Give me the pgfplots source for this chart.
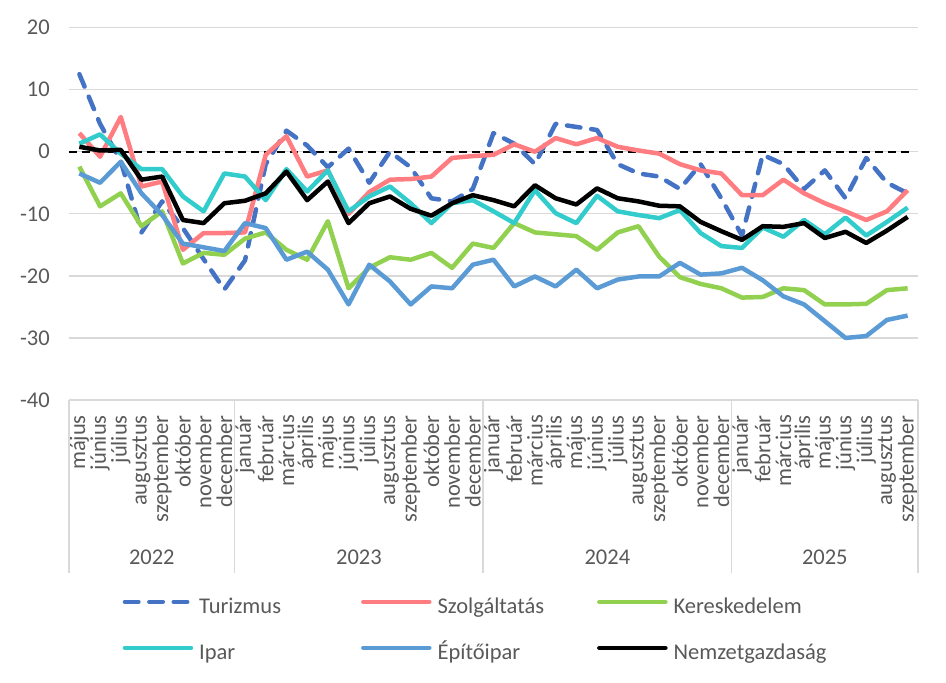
\documentclass[border=0pt]{standalone}
\usepackage{pgfplots}
\usepackage{pgfplotstable}
\pgfplotsset{compat=1.18}
\usepackage{fontspec}
\setmainfont{Carlito}
\definecolor{cT}{HTML}{4472C4}
\definecolor{cS}{HTML}{FF7C80}
\definecolor{cK}{HTML}{92D050}
\definecolor{cI}{HTML}{33CCCC}
\definecolor{cE}{HTML}{5B9BD5}
\definecolor{gridgray}{HTML}{D9D9D9}
\definecolor{labelgray}{HTML}{595959}
\pgfplotstableread{
x T S K I E N
0 12.5 3 -2.4 1.3 -3.5 0.8
1 4.5 -0.8 -8.8 2.8 -5 0.2
2 -1.5 5.6 -6.7 -0.3 -1.6 0.3
3 -13 -5.6 -12 -2.8 -6.7 -4.5
4 -8 -4.8 -9.6 -2.8 -10.2 -4
5 -12.3 -15.8 -18 -7.2 -14.8 -11
6 -17.3 -13.1 -16.3 -9.6 -15.4 -11.5
7 -22.2 -13.1 -16.6 -3.5 -16 -8.3
8 -17.5 -13 -14 -4 -11.5 -7.9
9 -2 -0.5 -13 -7.8 -12.3 -6.7
10 3.4 2.5 -15.8 -2.8 -17.4 -3.2
11 1 -4 -17.4 -6.4 -16.1 -7.8
12 -2.5 -3 -11.2 -3 -19 -4.8
13 0.5 -10 -22 -9.6 -24.6 -11.5
14 -5 -6.5 -18.7 -7.2 -18.2 -8.3
15 0 -4.5 -17 -5.6 -20.9 -7.2
16 -2.5 -4.4 -17.4 -8.3 -24.6 -9.2
17 -7.5 -4 -16.3 -11.5 -21.7 -10.3
18 -8 -1 -18.7 -8.3 -22 -8.3
19 -6 -0.7 -14.8 -7.8 -18.2 -7
20 3 -0.5 -15.5 -9.6 -17.4 -7.8
21 1.3 1.2 -11.5 -11.5 -21.7 -8.8
22 -2 0 -13 -6.2 -20.1 -5.4
23 4.5 2.2 -13.3 -9.9 -21.7 -7.5
24 4 1.2 -13.6 -11.5 -19 -8.5
25 3.5 2.2 -15.8 -7.1 -22 -5.9
26 -2 0.8 -13 -9.6 -20.6 -7.5
27 -3.5 0.2 -12 -10.2 -20.1 -8
28 -4 -0.3 -16.9 -10.7 -20.1 -8.7
29 -6 -2 -20.2 -9.4 -17.9 -8.8
30 -2 -3 -21.3 -13.1 -19.8 -11.3
31 -7.5 -3.5 -22 -15.2 -19.6 -12.8
32 -13.5 -7 -23.5 -15.5 -18.7 -14.2
33 -0.5 -7 -23.4 -12.2 -20.7 -12
34 -2 -4.5 -22 -13.7 -23.3 -12.1
35 -6 -6.7 -22.3 -11 -24.6 -11.5
36 -3 -8.3 -24.6 -13.3 -27.3 -13.9
37 -7.5 -9.6 -24.6 -10.6 -30 -12.9
38 -1 -11 -24.5 -13.5 -29.7 -14.7
39 -5 -9.6 -22.3 -11.3 -27.1 -12.7
40 -6.7 -6.2 -22 -9 -26.4 -10.5
}\datatable
\newcommand{\lbl}{\fontsize{22.5bp}{27bp}\selectfont}
\begin{document}
\begin{tikzpicture}
\path[use as bounding box] (-69bp,-283bp) rectangle (877bp,400bp);
\begin{axis}[
  at={(0,0)}, anchor=south west,
  width=849bp, height=372.4bp, scale only axis,
  xmin=-0.5, xmax=40.5, ymin=-40, ymax=20,
  ytick={-40,-30,...,20},
  xtick={0,...,40},
  xticklabels={május,június,július,augusztus,szeptember,október,november,december,
    január,február,március,április,május,június,július,augusztus,szeptember,október,november,december,
    január,február,március,április,május,június,július,augusztus,szeptember,október,november,december,
    január,február,március,április,május,június,július,augusztus,szeptember},
  xtick pos=left, ytick pos=left,
  major tick length=0pt,
  ymajorgrids,
  grid style={draw=gridgray, line width=1.3bp},
  axis line style={draw=none},
  clip mode=individual,
  /pgf/number format/assume math mode=true,
  every tick label/.append style={font=\lbl, text=labelgray},
  yticklabel style={anchor=east, inner sep=0pt},
  yticklabel shift=19bp,
  xticklabel style={rotate=90, anchor=east, inner sep=0pt},
  xticklabel shift=15bp,
  extra x ticks={-0.5,7.5,19.5,31.5,40.5},
  extra x tick labels={,,,,},
  extra x tick style={major tick length=173bp, tick align=outside,
    tick style={draw=gridgray, line width=1.3bp}},
  legend columns=3,
  legend cell align=left,
  legend image code/.code={\draw[#1, line cap=round] (0bp,6bp) -- (66bp,6bp);},
  legend style={at={(0.0595,-0.524)}, anchor=north west, draw=none, fill=none,
    font=\lbl, text=labelgray, row sep=25bp,
    nodes={inner sep=0pt, text height=16bp, text depth=5bp},
    /tikz/every odd column/.style={column sep=6bp},
    /tikz/column 2/.style={column sep=80bp},
    /tikz/column 4/.style={column sep=53bp}},
  every axis plot/.append style={line width=4.5bp, line join=round},
]
\addplot[black, line width=1.8bp, dash pattern=on 8bp off 5bp, forget plot] coordinates {(-0.5,0) (40.3,0)};
\addplot[cT, dash pattern=on 13.5bp off 10.9bp, line cap=round] table[x=x,y=T]{\datatable};
\addlegendentry{Turizmus}
\addplot[cS] table[x=x,y=S]{\datatable};
\addlegendentry{Szolgáltatás}
\addplot[cK] table[x=x,y=K]{\datatable};
\addlegendentry{Kereskedelem}
\addplot[cI] table[x=x,y=I]{\datatable};
\addlegendentry{Ipar}
\addplot[cE] table[x=x,y=E]{\datatable};
\addlegendentry{Építőipar}
\addplot[black] table[x=x,y=N]{\datatable};
\addlegendentry{Nemzetgazdaság}
\node[font=\lbl, text=labelgray] at (axis cs:3.5,-40) [yshift=-157bp] {2022};
\node[font=\lbl, text=labelgray] at (axis cs:13.5,-40) [yshift=-157bp] {2023};
\node[font=\lbl, text=labelgray] at (axis cs:25.5,-40) [yshift=-157bp] {2024};
\node[font=\lbl, text=labelgray] at (axis cs:36,-40) [yshift=-157bp] {2025};
\end{axis}
\end{tikzpicture}
\end{document}
